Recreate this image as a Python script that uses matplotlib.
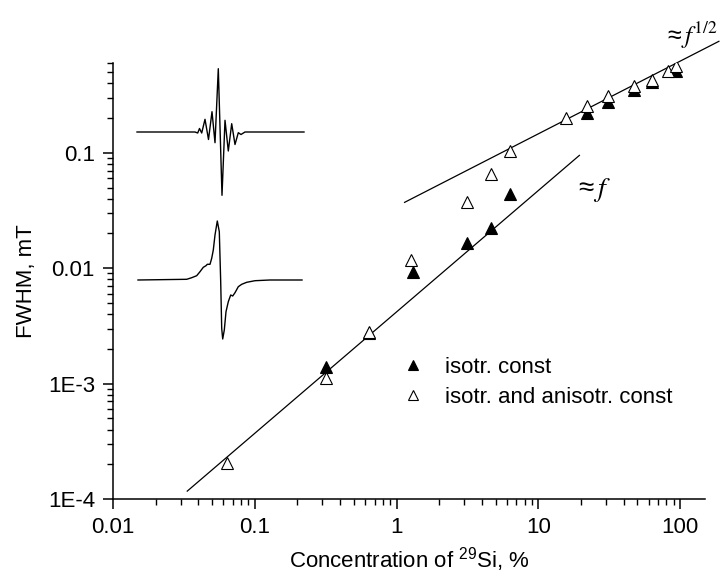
import matplotlib
matplotlib.use('Agg')
import matplotlib.pyplot as plt
from matplotlib.ticker import FixedLocator, NullFormatter, LogLocator

plt.rcParams['font.family'] = ['Liberation Sans', 'DejaVu Sans']
plt.rcParams['mathtext.default'] = 'regular'

# ---- data ----
# isotropic constants only (filled triangles)
x_iso = [0.32, 0.64, 1.3, 3.15, 4.65, 6.3, 22, 31, 47, 63, 94]
y_iso = [1.40e-3, 2.75e-3, 9.2e-3, 0.0165, 0.0221, 0.0441, 0.221, 0.276, 0.348, 0.41, 0.508]

# isotropic and anisotropic constants (open triangles)
x_all = [0.064, 0.32, 0.64, 1.27, 3.15, 4.65, 6.3, 15.7, 22, 31, 47, 63, 82, 94]
y_all = [2.07e-4, 1.11e-3, 2.8e-3, 0.0117, 0.0374, 0.066, 0.103, 0.200, 0.252,
         0.308, 0.382, 0.425, 0.515, 0.561]

# guide lines  ~f  and  ~f^(1/2)
lin_x = [0.0334, 19.5]
lin_y = [1.17e-4, 0.095]
sqrt_x = [1.14, 188]
sqrt_y = [0.0372, 0.925]

# inset spectra (field position, signal), arbitrary units
spec1_b = [137, 195, 197.7, 199.5, 201.7, 205, 208.5, 212, 215, 218.3, 222, 225,
           228.3, 231.7, 235, 238.3, 241, 245, 304]
spec1_s = [0, 0, -1, 3.5, -1, 12.7, -7.5, 20.3, -10.7, 63.3, -63.3, 11.7,
           -19, 8.3, -12.5, -0.7, -2.5, 0, 0]

spec2_b = [138, 186.7, 191.7, 196.7, 200, 203.3, 206, 207.3, 210, 211.7, 213.3,
           215, 217.3, 219.3, 220.7, 221.7, 222.7, 224.3, 226, 228.3, 230.7,
           232.7, 235, 238.3, 241.7, 246.7, 255, 270, 302]
spec2_s = [0, 0.7, 2.3, 4.3, 8.3, 12.7, 14.3, 15.7, 15.7, 21.7, 30, 45, 59, 48.3,
           -1.7, -48.3, -59, -50, -31.7, -21.7, -15, -16, -12.7, -6.7, -4.3,
           -2.3, -0.7, 0, 0]

fig = plt.figure(figsize=(7.2, 5.8), dpi=100)
ax = fig.add_axes([113/720, 81/580, 592/720, 436/580])

ax.plot(lin_x, lin_y, color='black', lw=0.9, clip_on=False)
ax.plot(sqrt_x, sqrt_y, color='black', lw=0.9, clip_on=False)

ax.plot(x_iso, y_iso, linestyle='none', marker='^', ms=8, mfc='black', mec='black',
        mew=0.8, label='isotr. const', zorder=3)
ax.plot(x_all, y_all, linestyle='none', marker='^', ms=8, mfc='white', mec='black',
        mew=0.8, label='isotr. and anisotr. const', zorder=4)

ax.set_xscale('log')
ax.set_yscale('log')
ax.set_xlim(0.01, 150)
ax.set_ylim(1e-4, 0.6)

for s in ['top', 'right']:
    ax.spines[s].set_visible(False)
for s in ['left', 'bottom']:
    ax.spines[s].set_linewidth(1.1)

ax.xaxis.set_major_locator(FixedLocator([0.01, 0.1, 1, 10, 100]))
ax.set_xticklabels(['0.01', '0.1', '1', '10', '100'])
ax.yaxis.set_major_locator(FixedLocator([1e-4, 1e-3, 0.01, 0.1]))
ax.set_yticklabels(['1E-4', '1E-3', '0.01', '0.1'])
ax.xaxis.set_minor_locator(LogLocator(base=10, subs=range(2, 10), numticks=20))
ax.yaxis.set_minor_locator(LogLocator(base=10, subs=range(2, 10), numticks=20))
ax.xaxis.set_minor_formatter(NullFormatter())
ax.yaxis.set_minor_formatter(NullFormatter())
ax.tick_params(which='major', direction='out', length=7, width=1.1, labelsize=16, pad=6)
ax.tick_params(which='minor', direction='out', length=4, width=1.0)

ax.set_xlabel('Concentration of $^{29}$Si, %', fontsize=16, labelpad=5)
ax.set_ylabel('FWHM, mT', fontsize=16, labelpad=8)

ax.legend(loc='upper left', bbox_to_anchor=(0.477, 0.347), frameon=False, fontsize=16,
          handlelength=0.8, handletextpad=1.02, labelspacing=0.43, markerscale=0.85,
          borderaxespad=0)

ax.text(18, 0.0425, r'$\approx\mathit{f}$', fontsize=20, math_fontfamily='stix')
ax.text(77, 0.88, r'$\approx\mathit{f}^{\mathit{1/2}}$', fontsize=18,
        math_fontfamily='stix', clip_on=False)

# inset spectra, no frame
ins = fig.add_axes([130/720, 235/580, 180/720, 285/580])
ins.axis('off')
ins.set_xlim(130, 310)
ins.set_ylim(0, 285)
ins.plot(spec1_b, [213 + v for v in spec1_s], color='black', lw=1.0)
ins.plot(spec2_b, [65 + v for v in spec2_s], color='black', lw=1.0)

fig.savefig('out.png', dpi=100)
